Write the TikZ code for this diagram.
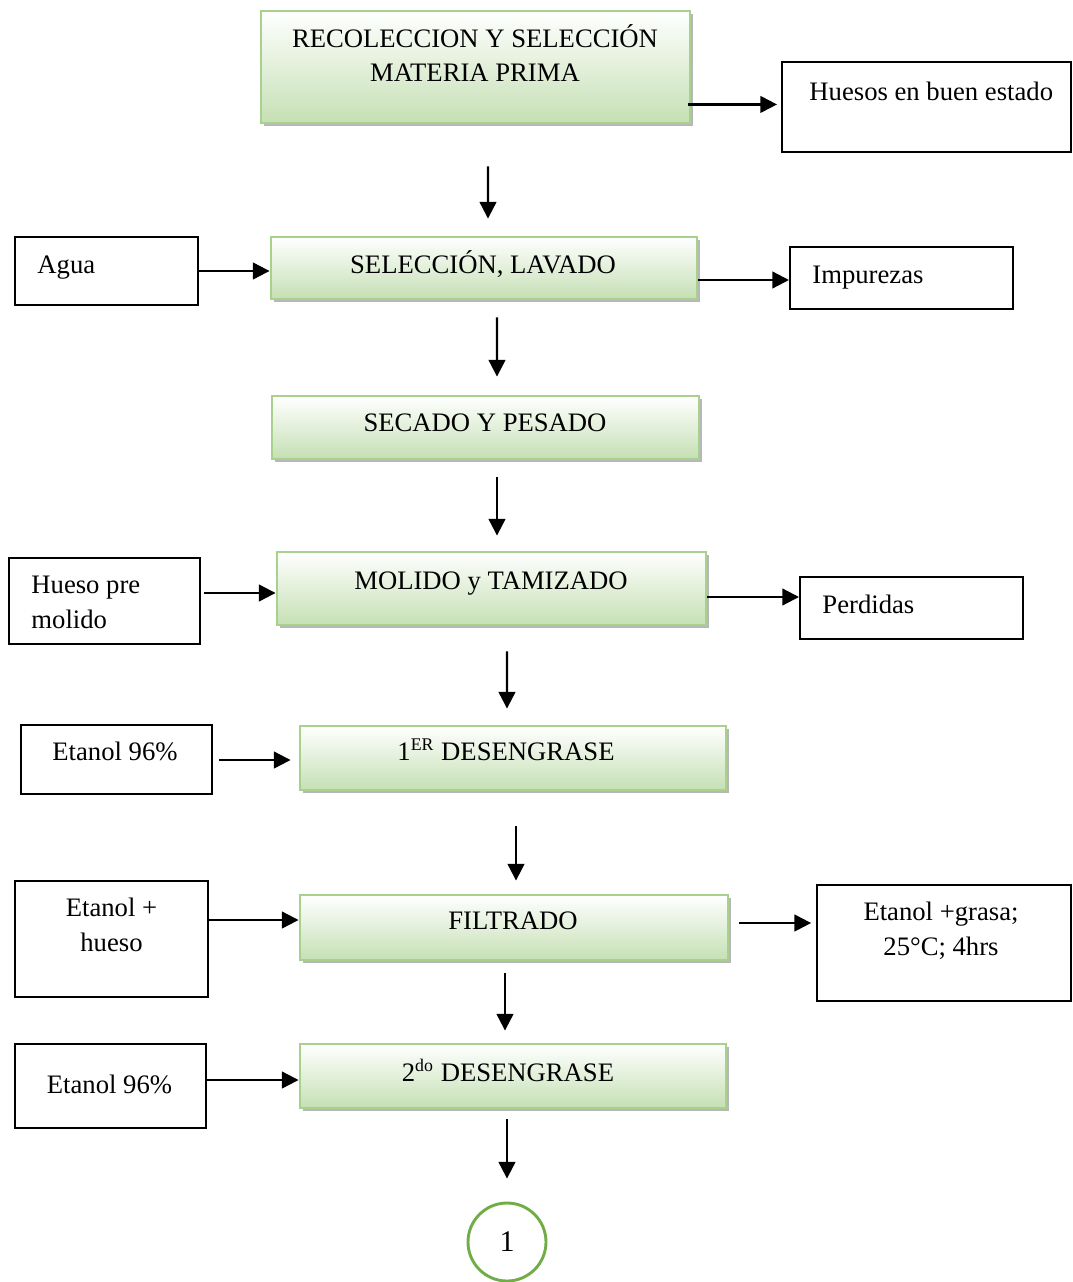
\documentclass[tikz,border=0pt]{standalone}
\usepackage{fontspec}
\setmainfont{Liberation Serif}
\usetikzlibrary{calc,arrows.meta,shadows}
\definecolor{gline}{RGB}{169,209,142}
\definecolor{gfill}{RGB}{197,224,180}
\definecolor{cline}{RGB}{112,173,71}
\tikzset{
  stage/.style={draw=gline, line width=1.3pt, top color=white, bottom color=gfill,
    inner sep=0pt,
    drop shadow={shadow xshift=1.5pt, shadow yshift=-1.5pt, fill=black!40, opacity=0.7}},
  io/.style={draw=black, line width=0.9pt, inner sep=0pt, fill=white},
  arr/.style={line width=1pt, -{Triangle[length=7.5pt,width=7.5pt]}},
  txt/.style={inner sep=0pt, align=center},
  ltxt/.style={inner sep=0pt, align=left, anchor=base west}
}
\begin{document}
\begin{tikzpicture}[x=0.45pt,y=-0.45pt,
  font=\fontsize{12}{15.5}\selectfont]
\useasboundingbox (0,0) rectangle (1073,1282);

% process stages
\node[stage, minimum width=193.05pt, minimum height=50.4pt]  (b1) at (475.5,67) {};
\node[stage, minimum width=191.7pt,  minimum height=27.9pt]  (b2) at (484,268) {};
\node[stage, minimum width=192.15pt, minimum height=28.35pt] (b3) at (485.5,427.5) {};
\node[stage, minimum width=193.05pt, minimum height=32.85pt] (b4) at (491.5,588.5) {};
\node[stage, minimum width=191.7pt,  minimum height=28.8pt]  (b5) at (513,758) {};
\node[stage, minimum width=192.6pt,  minimum height=29.25pt] (b6) at (514,927.5) {};
\node[stage, minimum width=191.7pt,  minimum height=28.8pt]  (b7) at (513,1076) {};

% inputs and outputs
\node[io, minimum width=130.05pt, minimum height=40.5pt]  (w1) at (926.5,107) {};
\node[io, minimum width=82.35pt,  minimum height=30.6pt]  (w2) at (106.5,271) {};
\node[io, minimum width=100.35pt, minimum height=27.9pt]  (w3) at (901.5,278) {};
\node[io, minimum width=85.95pt,  minimum height=38.7pt]  (w4) at (104.5,601) {};
\node[io, minimum width=100.35pt, minimum height=27.9pt]  (w5) at (911.5,608) {};
\node[io, minimum width=85.95pt,  minimum height=31.05pt] (w6) at (116.5,759.5) {};
\node[io, minimum width=86.85pt,  minimum height=52.2pt]  (w7) at (111.5,939) {};
\node[io, minimum width=114.3pt,  minimum height=52.2pt]  (w8) at (944,943) {};
\node[io, minimum width=85.95pt,  minimum height=37.8pt]  (w9) at (110.5,1086) {};

% connector to the next page
\node[circle, draw=cline, line width=1.3pt, inner sep=0pt, minimum size=35.1pt,
  font=\fontsize{13.5}{15}\selectfont] (c) at (507,1242) {1};

% labels (base = baseline of the last line)
\node[txt, anchor=base] (t1) at (475,82) {RECOLECCION Y SELECCIÓN\\MATERIA PRIMA};
\node[txt, anchor=base] (t2) at (483,273) {SELECCIÓN, LAVADO};
\node[txt, anchor=base] (t3) at (485,431) {SECADO Y PESADO};
\node[txt, anchor=base] (t4) at (491,589) {MOLIDO y TAMIZADO};
\node[txt, anchor=base] (t5) at (506,760) {1\textsuperscript{ER} DESENGRASE};
\node[txt, anchor=base] (t6) at (513,929) {FILTRADO};
\node[txt, anchor=base] (t7) at (508,1081) {2\textsuperscript{do} DESENGRASE};

\node[ltxt] (s1) at (809,101) {Huesos en buen estado};
\node[ltxt] (s2) at (37,273) {Agua};
\node[ltxt] (s3) at (812,283) {Impurezas};
\node[ltxt] (s4) at (31,628) {Hueso pre\\molido};
\node[ltxt] (s5) at (822,613) {Perdidas};
\node[txt, anchor=base] (s6) at (115,760) {Etanol 96\%};
\node[txt, anchor=base] (s7) at (111.5,951) {Etanol +\\hueso};
\node[txt, anchor=base] (s8) at (941,955) {Etanol +grasa;\\25°C; 4hrs};
\node[txt, anchor=base] (s9) at (109.5,1093) {Etanol 96\%};

% main flow
\draw[arr] ($(b1.south)+(12.5,42)$) -- ($(b2.north)+(4,-17)$);
\draw[arr] ($(b2.south)+(13,17)$) -- ($(b3.north)+(11.5,-18)$);
\draw[arr] ($(b3.south)+(11.5,17)$) -- ($(b4.north)+(5.5,-15)$);
\draw[arr] ($(b4.south)+(15.5,25)$) -- ($(b5.north)+(-6,-16)$);
\draw[arr] ($(b5.south)+(3,35)$) -- ($(b6.north)+(2,-13)$);
\draw[arr] ($(b6.south)+(-9,12)$) -- ($(b7.north)+(-8,-12)$);
\draw[arr] ($(b7.south)+(-6,10)$) -- ($(c.north)+(0,-23)$);

% side streams
\coordinate (h1) at ($(b1.south east)+(-3,-20)$);
\draw[arr, shorten >=1.8pt] (h1) -- (h1 -| w1.west);
\draw[arr] (w2.east) -- (w2.east -| b2.west);
\coordinate (h3) at ($(b2.east)+(0,12)$);
\draw[arr] (h3) -- (h3 -| w3.west);
\coordinate (h4) at ($(w4.east)+(3,-8)$);
\draw[arr] (h4) -- (h4 -| b4.west);
\coordinate (h5) at ($(b4.east)+(0,8.5)$);
\draw[arr] (h5) -- (h5 -| w5.west);
\coordinate (h6) at ($(w6.east)+(6,0.5)$);
\draw[arr, shorten >=3.6pt] (h6) -- (h6 -| b5.west);
\coordinate (h7) at ($(w7.east)+(0,-19)$);
\draw[arr] (h7) -- (h7 -| b6.west);
\coordinate (h8) at ($(b6.east)+(10,-4.5)$);
\draw[arr, shorten >=2.2pt] (h8) -- (h8 -| w8.west);
\coordinate (h9) at ($(w9.east)+(0,-6)$);
\draw[arr] (h9) -- (h9 -| b7.west);
\end{tikzpicture}
\end{document}
